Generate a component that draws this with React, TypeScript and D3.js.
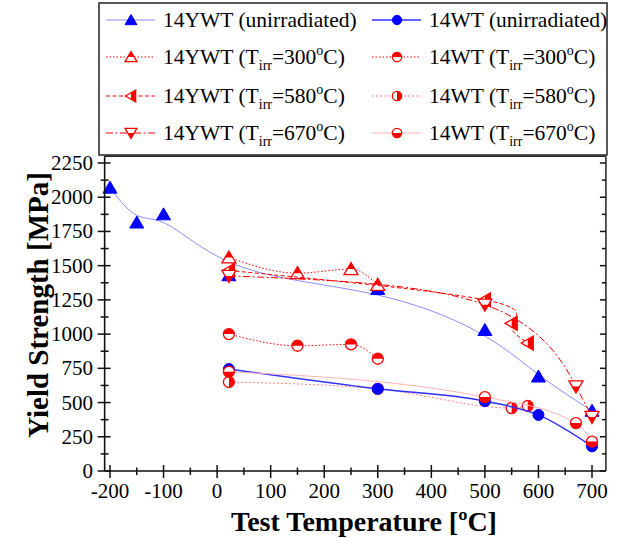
import React from "react";
import * as d3 from "d3";

// Test temperatures (°C) and yield strengths (MPa) for each material / irradiation condition
const ywtUnirrT = [-200, -150, -100, 22, 300, 500, 600, 700];
const ywtUnirrY = [2070, 1815, 1875, 1430, 1330, 1030, 690, 440];

const wtUnirrT = [22, 300, 500, 600, 700];
const wtUnirrY = [745, 600, 510, 410, 180];

const ywt300T = [22, 150, 250, 300];
const ywt300Y = [1560, 1445, 1475, 1360];

const ywt580T = [22, 500, 550, 580];
const ywt580Y = [1465, 1250, 1078, 935];

const ywt670T = [22, 500, 670, 700];
const ywt670Y = [1425, 1215, 618, 395];

const wt300T = [22, 150, 250, 300];
const wt300Y = [1000, 915, 925, 820];

const wt580T = [22, 300, 550, 580];
const wt580Y = [650, 600, 460, 475];

const wt670T = [22, 500, 670, 700];
const wt670Y = [725, 540, 350, 215];

const xMajorTicks = [-200, -100, 0, 100, 200, 300, 400, 500, 600, 700];
const xMinorTicks = [-150, -50, 50, 150, 250, 350, 450, 550, 650];
const yMajorTicks = [0, 250, 500, 750, 1000, 1250, 1500, 1750, 2000, 2250];
const yMinorTicks = [125, 375, 625, 875, 1125, 1375, 1625, 1875, 2125];

const FONT = "Liberation Serif";
const RED = "#ff0000";
const BLUE = "#0000ff";

type Shape = "up" | "down" | "left" | "circle";
type Fill = "full" | "top" | "bottom" | "right";

const x = d3.scaleLinear().domain([-200, 700]).range([110, 592]);
const y = d3.scaleLinear().domain([0, 2250]).range([471, 163]);

const frameLeft = x(-210);
const frameRight = x(726);
const frameTop = y(2300);
const frameBottom = y(0);

function shapePath(shape: Shape, s: number): string {
  const w = 7 * s;
  const a = 6.5 * s;
  const b = 5.5 * s;
  if (shape === "up") return `M0,${-a}L${w},${b}L${-w},${b}Z`;
  if (shape === "down") return `M0,${a}L${w},${-b}L${-w},${-b}Z`;
  if (shape === "left") return `M${-a},0L${b},${-w}L${b},${w}Z`;
  const r = 5.5 * s;
  return `M${r},0A${r},${r} 0 1,1 ${-r},0A${r},${r} 0 1,1 ${r},0Z`;
}

function Marker({ shape, fill, color, cx, cy, s = 1 }: { shape: Shape; fill: Fill; color: string; cx: number; cy: number; s?: number }) {
  const d = shapePath(shape, s);
  if (fill === "full") {
    return (
      <g transform={`translate(${cx},${cy})`}>
        <path d={d} fill={color} stroke={color} strokeWidth={1} />
      </g>
    );
  }
  return (
    <g transform={`translate(${cx},${cy})`}>
      <path d={d} fill="#ffffff" />
      <path d={d} fill={color} clipPath={`url(#half-${fill})`} />
      <path d={d} fill="none" stroke={color} strokeWidth={1.3} />
    </g>
  );
}

interface Series {
  t: number[];
  v: number[];
  shape: Shape;
  fill: Fill;
  markColor: string;
  lineColor: string;
  lineWidth: number;
  dash?: string;
  curve: d3.CurveFactory;
}

const ywtUnirr: Series = { t: ywtUnirrT, v: ywtUnirrY, shape: "up", fill: "full", markColor: BLUE, lineColor: "#8c8cff", lineWidth: 1, curve: d3.curveBasis };
const wtUnirr: Series = { t: wtUnirrT, v: wtUnirrY, shape: "circle", fill: "full", markColor: BLUE, lineColor: "#3030ff", lineWidth: 1.5, curve: d3.curveMonotoneX };
const ywt300: Series = { t: ywt300T, v: ywt300Y, shape: "up", fill: "top", markColor: RED, lineColor: RED, lineWidth: 1, dash: "1.5,2", curve: d3.curveMonotoneX };
const ywt580: Series = { t: ywt580T, v: ywt580Y, shape: "left", fill: "right", markColor: RED, lineColor: RED, lineWidth: 1, dash: "4,2.5", curve: d3.curveNatural };
const ywt670: Series = { t: ywt670T, v: ywt670Y, shape: "down", fill: "bottom", markColor: RED, lineColor: RED, lineWidth: 1, dash: "7,2.5,2,2.5", curve: d3.curveNatural };
const wt300: Series = { t: wt300T, v: wt300Y, shape: "circle", fill: "top", markColor: RED, lineColor: RED, lineWidth: 1, dash: "1.5,2", curve: d3.curveMonotoneX };
const wt580: Series = { t: wt580T, v: wt580Y, shape: "circle", fill: "right", markColor: RED, lineColor: "#ff8080", lineWidth: 1, dash: "2,2", curve: d3.curveMonotoneX };
const wt670: Series = { t: wt670T, v: wt670Y, shape: "circle", fill: "bottom", markColor: RED, lineColor: "#ffb4b4", lineWidth: 1, curve: d3.curveMonotoneX };

// drawing order (later series sit on top)
const drawOrder: Series[] = [wt580, ywtUnirr, wtUnirr, ywt300, wt300, ywt580, ywt670, wt670];

function SeriesLine({ s }: { s: Series }) {
  const pts: [number, number][] = s.t.map((t, i) => [x(t), y(s.v[i])]);
  const d = d3.line().curve(s.curve)(pts) || "";
  return <path d={d} fill="none" stroke={s.lineColor} strokeWidth={s.lineWidth} strokeDasharray={s.dash} />;
}

function SeriesMarks({ s }: { s: Series }) {
  return (
    <g>
      {s.t.map((t, i) => (
        <Marker key={i} shape={s.shape} fill={s.fill} color={s.markColor} cx={x(t)} cy={y(s.v[i])} />
      ))}
    </g>
  );
}

const LEG_FS = 21.5;

function LegendLabel({ x0, y0, name, temp }: { x0: number; y0: number; name: string; temp?: string }) {
  if (!temp) {
    return (
      <text x={x0} y={y0 + 7} fontSize={LEG_FS} fontFamily={FONT}>
        {name}
      </text>
    );
  }
  return (
    <text x={x0} y={y0 + 7} fontSize={LEG_FS} fontFamily={FONT}>
      {name} (T
      <tspan fontSize={14} dy={6}>irr</tspan>
      <tspan dy={-6}>={temp}</tspan>
      <tspan fontSize={14} dy={-9}>o</tspan>
      <tspan dy={9}>C)</tspan>
    </text>
  );
}

function LegendSample({ s, x0, y0 }: { s: Series; x0: number; y0: number }) {
  return (
    <g>
      <line x1={x0} x2={x0 + 49} y1={y0} y2={y0} stroke={s.lineColor} strokeWidth={s.lineWidth} strokeDasharray={s.dash} />
      <Marker shape={s.shape} fill={s.fill} color={s.markColor} cx={x0 + 25} cy={y0} s={0.85} />
    </g>
  );
}

const legendRowsY = [20, 57, 96, 133];
const legendLeft: { s: Series; label: string; temp?: string }[] = [
  { s: ywtUnirr, label: "14YWT (unirradiated)" },
  { s: ywt300, label: "14YWT", temp: "300" },
  { s: ywt580, label: "14YWT", temp: "580" },
  { s: ywt670, label: "14YWT", temp: "670" },
];
const legendRight: { s: Series; label: string; temp?: string }[] = [
  { s: wtUnirr, label: "14WT (unirradiated)" },
  { s: wt300, label: "14WT", temp: "300" },
  { s: wt580, label: "14WT", temp: "580" },
  { s: wt670, label: "14WT", temp: "670" },
];

const TICK_FS = 21;

export default function App() {
  return (
    <svg width={620} height={538} style={{ position: "absolute", left: 0, top: 0, background: "#fff" }}>
      <defs>
        <clipPath id="half-top" clipPathUnits="userSpaceOnUse">
          <rect x={-20} y={-20} width={40} height={20} />
        </clipPath>
        <clipPath id="half-bottom" clipPathUnits="userSpaceOnUse">
          <rect x={-20} y={0} width={40} height={20} />
        </clipPath>
        <clipPath id="half-right" clipPathUnits="userSpaceOnUse">
          <rect x={0} y={-20} width={20} height={40} />
        </clipPath>
      </defs>
      <rect x={0} y={0} width={620} height={538} fill="#fff" />

      {/* legend */}
      <rect x={99} y={3} width={508} height={152} fill="none" stroke="#222" strokeWidth={1.5} />
      {legendLeft.map((e, i) => (
        <g key={"l" + i}>
          <LegendSample s={e.s} x0={106} y0={legendRowsY[i]} />
          <LegendLabel x0={163} y0={legendRowsY[i]} name={e.label} temp={e.temp} />
        </g>
      ))}
      {legendRight.map((e, i) => (
        <g key={"r" + i}>
          <LegendSample s={e.s} x0={372} y0={legendRowsY[i]} />
          <LegendLabel x0={429} y0={legendRowsY[i]} name={e.label} temp={e.temp} />
        </g>
      ))}

      {/* series */}
      {drawOrder.map((s, i) => (
        <g key={"s" + i}>
          <SeriesLine s={s} />
          <SeriesMarks s={s} />
        </g>
      ))}

      {/* frame */}
      <line x1={frameLeft} x2={frameRight} y1={frameTop} y2={frameTop} stroke="#222" strokeWidth={1.5} />
      <line x1={frameRight} x2={frameRight} y1={frameTop} y2={frameBottom} stroke="#222" strokeWidth={1.5} />
      <line x1={frameLeft} x2={frameLeft} y1={frameTop} y2={frameBottom} stroke="#111" strokeWidth={1.6} />
      <line x1={frameLeft} x2={frameRight} y1={frameBottom} y2={frameBottom} stroke="#111" strokeWidth={1.6} />

      {/* left / right axis ticks */}
      {yMajorTicks.map((v) => (
        <g key={"ym" + v}>
          <line x1={frameLeft - 7} x2={frameLeft + 6} y1={y(v)} y2={y(v)} stroke="#111" strokeWidth={1.5} />
          <line x1={frameRight - 6} x2={frameRight} y1={y(v)} y2={y(v)} stroke="#111" strokeWidth={1.5} />
          <text x={93} y={y(v) + 7} textAnchor="end" fontSize={TICK_FS} fontFamily={FONT}>
            {v}
          </text>
        </g>
      ))}
      {yMinorTicks.map((v) => (
        <g key={"yn" + v}>
          <line x1={frameLeft - 4} x2={frameLeft + 4} y1={y(v)} y2={y(v)} stroke="#111" strokeWidth={1.5} />
          <line x1={frameRight - 4} x2={frameRight} y1={y(v)} y2={y(v)} stroke="#111" strokeWidth={1.5} />
        </g>
      ))}

      {/* bottom axis ticks */}
      {xMajorTicks.map((v) => (
        <g key={"xm" + v}>
          <line x1={x(v)} x2={x(v)} y1={frameBottom - 6} y2={frameBottom + 7} stroke="#111" strokeWidth={1.5} />
          <text x={x(v)} y={498} textAnchor="middle" fontSize={TICK_FS} fontFamily={FONT}>
            {v}
          </text>
        </g>
      ))}
      {xMinorTicks.map((v) => (
        <line key={"xn" + v} x1={x(v)} x2={x(v)} y1={frameBottom - 3.5} y2={frameBottom + 4} stroke="#111" strokeWidth={1.5} />
      ))}

      {/* axis titles */}
      <text x={364} y={531} textAnchor="middle" fontSize={28} fontWeight="bold" fontFamily={FONT}>
        Test Temperature [ºC]
      </text>
      <text transform={`translate(48,305) rotate(-90)`} textAnchor="middle" fontSize={29} fontWeight="bold" fontFamily={FONT}>
        Yield Strength [MPa]
      </text>
    </svg>
  );
}
